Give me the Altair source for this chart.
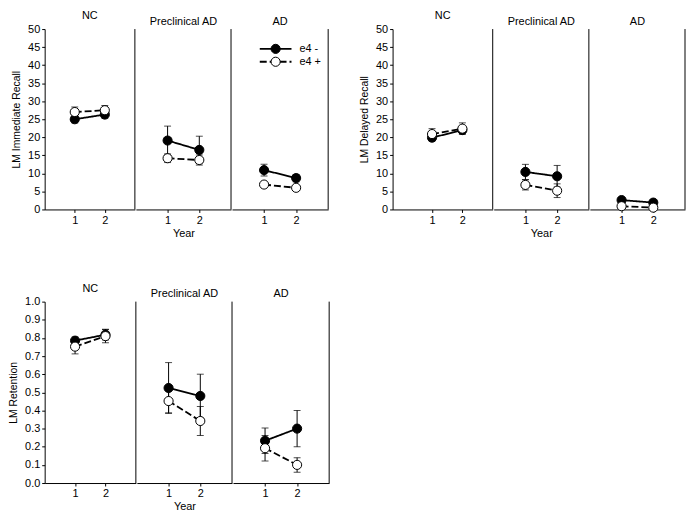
import altair as alt
import pandas as pd

FONT = "Liberation Sans"

groups = ["NC", "Preclinical AD", "AD"]
genotypes = ["e4 -", "e4 +"]
years = [1, 2]

# LM Immediate Recall  (rows: NC, Preclinical AD, AD; cols: year 1, year 2)
ir_neg_mean = [[25.0, 26.3], [19.1, 16.5], [10.9, 8.7]]
ir_neg_err = [[1.0, 1.0], [4.0, 3.8], [1.6, 1.0]]
ir_pos_mean = [[27.0, 27.5], [14.2, 13.7], [6.9, 6.0]]
ir_pos_err = [[1.4, 1.3], [1.2, 1.4], [0.6, 0.6]]

# LM Delayed Recall
dr_neg_mean = [[19.9, 22.0], [10.4, 9.2], [2.6, 1.9]]
dr_neg_err = [[0.9, 1.0], [2.1, 3.0], [0.5, 0.4]]
dr_pos_mean = [[20.9, 22.4], [6.8, 5.2], [0.9, 0.5]]
dr_pos_err = [[1.5, 1.6], [1.4, 1.9], [0.3, 0.3]]

# LM Retention
rt_neg_mean = [[0.785, 0.818], [0.524, 0.48], [0.233, 0.30]]
rt_neg_err = [[0.02, 0.03], [0.14, 0.12], [0.07, 0.10]]
rt_pos_mean = [[0.752, 0.81], [0.452, 0.342], [0.192, 0.10]]
rt_pos_err = [[0.04, 0.037], [0.065, 0.08], [0.07, 0.04]]

ir_ticks = list(range(0, 51, 5))
rt_ticks = [round(i / 10, 1) for i in range(11)]


def build(neg_m, neg_e, pos_m, pos_e):
    rows = []
    for gi, g in enumerate(groups):
        for geno, m, e in [(genotypes[0], neg_m, neg_e), (genotypes[1], pos_m, pos_e)]:
            for yi, yr in enumerate(years):
                rows.append({"group": g, "geno": geno, "year": yr,
                             "mean": m[gi][yi], "lo": m[gi][yi] - e[gi][yi],
                             "hi": m[gi][yi] + e[gi][yi]})
    return pd.DataFrame(rows)


ir_df = build(ir_neg_mean, ir_neg_err, ir_pos_mean, ir_pos_err)
dr_df = build(dr_neg_mean, dr_neg_err, dr_pos_mean, dr_pos_err)
rt_df = build(rt_neg_mean, rt_neg_err, rt_pos_mean, rt_pos_err)

DASH = [7, 3]
dash_scale = alt.Scale(domain=genotypes, range=[[1, 0], DASH])
fill_scale = alt.Scale(domain=genotypes, range=["black", "white"])


def panel(df, gi, width, xdom, ydom, yvals, yfmt, ytitle, height, legend=False):
    d = df[df.group == groups[gi]]
    first = gi == 0
    middle = gi == 1
    xaxis = alt.Axis(values=years, format="d", grid=False, domainColor="black",
                     tickColor="black", tickSize=3, labelFontSize=11, labelFont=FONT,
                     labelColor="black", labelPadding=2,
                     title="Year" if middle else None, titleFont=FONT,
                     titleFontSize=11, titleFontWeight="normal", titleColor="black",
                     titlePadding=2)
    x = alt.X("year:Q", scale=alt.Scale(domain=xdom, nice=False, zero=False), axis=xaxis)
    if first:
        yaxis = alt.Axis(values=yvals, format=yfmt, grid=False, title=ytitle,
                         domainColor="black", tickColor="black", tickSize=3,
                         labelFontSize=11, labelFont=FONT, labelColor="black",
                         labelPadding=2, titleFont=FONT, titleFontSize=10.5,
                         titleFontWeight="normal", titleColor="black", titlePadding=6)
    else:
        yaxis = None

    def yenc(f):
        return alt.Y(f, scale=alt.Scale(domain=ydom, nice=False, zero=False), axis=yaxis)

    base = alt.Chart(d)
    line = base.mark_line(color="black", strokeWidth=1.8).encode(
        x=x, y=yenc("mean:Q"), detail="geno:N",
        strokeDash=alt.StrokeDash("geno:N", scale=dash_scale, legend=None))
    err = base.mark_rule(color="black", strokeWidth=1).encode(
        x=x, y=yenc("lo:Q"), y2="hi:Q")
    cap_hi = base.mark_tick(orient="horizontal", size=7, thickness=1, color="black").encode(
        x=x, y=yenc("hi:Q"))
    cap_lo = base.mark_tick(orient="horizontal", size=7, thickness=1, color="black").encode(
        x=x, y=yenc("lo:Q"))
    pts = base.mark_point(shape="circle", filled=True, size=85, stroke="black",
                          strokeWidth=1, opacity=1).encode(
        x=x, y=yenc("mean:Q"),
        fill=alt.Fill("geno:N", scale=fill_scale, legend=None))
    divider = alt.Chart(pd.DataFrame({"k": [0]})).mark_rule(
        color="black", strokeWidth=1).encode(
        x=alt.datum(xdom[1]), y=alt.value(0), y2=alt.value(height))
    layers = [line, err, cap_hi, cap_lo, pts, divider]
    if legend:
        for i, g in enumerate(genotypes):
            ld = pd.DataFrame({"geno": [g]})
            yy = 20 + 13 * i
            layers.append(alt.Chart(ld).mark_rule(
                color="black", strokeWidth=1.8,
                strokeDash=[1, 0] if i == 0 else DASH).encode(
                x=alt.value(28), x2=alt.value(60), y=alt.value(yy)))
            layers.append(alt.Chart(ld).mark_point(
                shape="circle", filled=True, size=85, stroke="black", strokeWidth=1,
                opacity=1, fill="black" if i == 0 else "white").encode(
                x=alt.value(44), y=alt.value(yy)))
            layers.append(alt.Chart(ld).mark_text(
                align="left", baseline="middle", fontSize=11, font=FONT,
                color="black").encode(x=alt.value(68), y=alt.value(yy), text="geno:N"))
    return alt.layer(*layers).properties(
        width=width, height=height,
        title=alt.TitleParams(groups[gi], fontSize=11, fontWeight="normal", font=FONT,
                              color="black", offset=2, frame="group", anchor="middle"))


H_TOP = 182
H_BOT = 183

ir_chart = alt.hconcat(
    panel(ir_df, 0, 91, [0, 3], [0, 50], ir_ticks, "d", "LM Immediate Recall", H_TOP),
    panel(ir_df, 1, 96, [0, 3], [0, 50], ir_ticks, "d", "LM Immediate Recall", H_TOP),
    panel(ir_df, 2, 97, [0, 3], [0, 50], ir_ticks, "d", "LM Immediate Recall", H_TOP,
          legend=True),
    spacing=0)

dr_chart = alt.hconcat(
    panel(dr_df, 0, 101, [-0.3, 3], [0, 50], ir_ticks, "d", "LM Delayed Recall", H_TOP),
    panel(dr_df, 1, 96, [0, 3], [0, 50], ir_ticks, "d", "LM Delayed Recall", H_TOP),
    panel(dr_df, 2, 96, [0, 3], [0, 50], ir_ticks, "d", "LM Delayed Recall", H_TOP),
    spacing=0)

rt_chart = alt.hconcat(
    panel(rt_df, 0, 92, [0, 3], [0, 1], rt_ticks, ".1f", "LM Retention", H_BOT),
    panel(rt_df, 1, 96, [0, 3], [0, 1], rt_ticks, ".1f", "LM Retention", H_BOT),
    panel(rt_df, 2, 97, [0, 3], [0, 1], rt_ticks, ".1f", "LM Retention", H_BOT),
    spacing=0)

chart = alt.vconcat(
    alt.hconcat(ir_chart, dr_chart, spacing=30),
    rt_chart,
    spacing=45,
).properties(
    padding={"left": 0, "top": 0, "right": 0, "bottom": 0},
    background="white",
).configure_view(stroke=None)

chart.save("out.html", embed_options={"renderer": "svg", "actions": False})
